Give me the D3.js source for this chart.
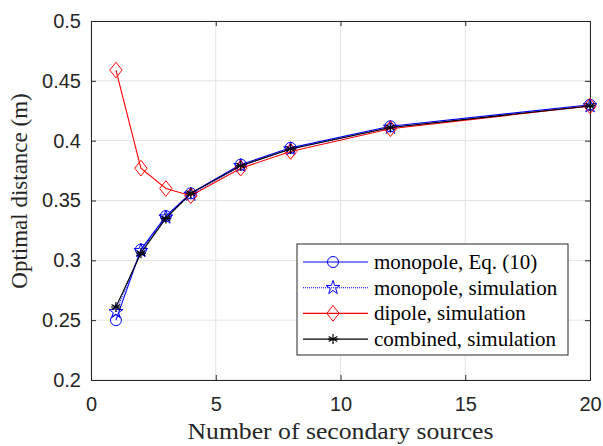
<!DOCTYPE html>
<html>
<head>
<meta charset="utf-8">
<script src="https://cdn.jsdelivr.net/npm/d3@7"></script>
<style>
  body { margin: 0; background: #fff; }
  .tick text { font-family: "Liberation Sans", Arial, sans-serif; font-size: 20px; fill: #262626; }
  .aText { font-family: "Liberation Serif", "Times New Roman", serif; font-size: 23px; fill: #262626; }
  .legText { font-family: "Liberation Serif", "Times New Roman", serif; font-size: 21px; fill: #000; }
</style>
</head>
<body>
<div class="chart"></div>
<script>
var svgWidth = 603;
var svgHeight = 446;

var margin = { top: 21, right: 13, bottom: 66, left: 91 };
var width = svgWidth - margin.left - margin.right;
var height = svgHeight - margin.top - margin.bottom;

// Data
var sources = [1, 2, 3, 4, 6, 8, 12, 20];
var monopoleEq = [0.250, 0.309, 0.337, 0.356, 0.380, 0.394, 0.412, 0.430];
var monopoleSim = [0.257, 0.308, 0.336, 0.355, 0.379, 0.393, 0.411, 0.429];
var dipoleSim = [0.459, 0.377, 0.360, 0.354, 0.377, 0.391, 0.410, 0.429];
var combinedSim = [0.261, 0.306, 0.335, 0.356, 0.379, 0.393, 0.411, 0.429];

var xTicks = [0, 5, 10, 15, 20];
var yTicks = [0.2, 0.25, 0.3, 0.35, 0.4, 0.45, 0.5];
var legendLabels = ["monopole, Eq. (10)", "monopole, simulation", "dipole, simulation", "combined, simulation"];

var svg = d3.select(".chart")
  .append("svg")
  .attr("width", svgWidth)
  .attr("height", svgHeight);

var chartGroup = svg.append("g")
  .attr("transform", `translate(${margin.left}, ${margin.top})`);

var xScale = d3.scaleLinear().domain([0, 20]).range([0, width]);
var yScale = d3.scaleLinear().domain([0.2, 0.5]).range([height, 0]);

// Grid
chartGroup.append("g")
  .selectAll("line")
  .data(xTicks)
  .enter()
  .append("line")
  .attr("x1", d => xScale(d)).attr("x2", d => xScale(d))
  .attr("y1", 0).attr("y2", height)
  .attr("stroke", "#e3e3e3").attr("stroke-width", 1);

chartGroup.append("g")
  .selectAll("line")
  .data(yTicks)
  .enter()
  .append("line")
  .attr("x1", 0).attr("x2", width)
  .attr("y1", d => yScale(d)).attr("y2", d => yScale(d))
  .attr("stroke", "#e3e3e3").attr("stroke-width", 1);

// Axes
var bottomAxis = d3.axisBottom(xScale).tickValues(xTicks).tickSize(-5).tickPadding(17).tickFormat(d3.format("d"));
var leftAxis = d3.axisLeft(yScale).tickValues(yTicks).tickSize(-5).tickPadding(10).tickFormat(d => d);
var topAxis = d3.axisTop(xScale).tickValues(xTicks).tickSize(-5).tickFormat("");
var rightAxis = d3.axisRight(yScale).tickValues(yTicks).tickSize(-5).tickFormat("");

function styleAxis(g) {
  g.select(".domain").attr("stroke", "#262626").attr("stroke-width", 1);
  g.selectAll(".tick line").attr("stroke", "#262626");
}

chartGroup.append("g").attr("transform", `translate(0, ${height})`).call(bottomAxis).call(styleAxis);
chartGroup.append("g").call(leftAxis).call(styleAxis);
chartGroup.append("g").call(topAxis).call(styleAxis);
chartGroup.append("g").attr("transform", `translate(${width}, 0)`).call(rightAxis).call(styleAxis);

// Series
var series = [
  { name: legendLabels[0], values: monopoleEq, color: "#0000ff", dash: null, marker: "circle" },
  { name: legendLabels[1], values: monopoleSim, color: "#0000ff", dash: "1,1", marker: "star" },
  { name: legendLabels[2], values: dipoleSim, color: "#ff0000", dash: null, marker: "diamond" },
  { name: legendLabels[3], values: combinedSim, color: "#000000", dash: null, marker: "asterisk" }
];

var line = d3.line()
  .x(d => xScale(d[0]))
  .y(d => yScale(d[1]));

function drawMarker(g, type, color) {
  if (type === "circle") {
    g.append("circle").attr("r", 5.5).attr("fill", "none").attr("stroke", color).attr("stroke-width", 1);
  } else if (type === "star") {
    g.append("path").attr("d", d3.symbol().type(d3.symbolStar).size(60)())
      .attr("fill", "none").attr("stroke", color).attr("stroke-width", 1);
  } else if (type === "diamond") {
    g.append("path").attr("d", "M0,-7.8L6.2,0L0,7.8L-6.2,0Z")
      .attr("fill", "none").attr("stroke", color).attr("stroke-width", 1);
  } else if (type === "asterisk") {
    g.append("path").attr("d", "M0,-5V5M-4.3,-2.5L4.3,2.5M-4.3,2.5L4.3,-2.5M-5,0H5")
      .attr("fill", "none").attr("stroke", color).attr("stroke-width", 1.2);
  }
}

series.forEach(function(s) {
  var pts = sources.map((x, i) => [x, s.values[i]]);
  chartGroup.append("path")
    .datum(pts)
    .attr("d", line)
    .attr("fill", "none")
    .attr("stroke", s.color)
    .attr("stroke-width", 1.1)
    .attr("stroke-dasharray", s.dash);
  pts.forEach(function(p) {
    var g = chartGroup.append("g").attr("transform", `translate(${xScale(p[0])}, ${yScale(p[1])})`);
    drawMarker(g, s.marker, s.color);
  });
});

// Legend
var legend = svg.append("g").attr("transform", "translate(297, 244)");
legend.append("rect")
  .attr("width", 271).attr("height", 111)
  .attr("fill", "#fff").attr("stroke", "#262626").attr("stroke-width", 1);

series.forEach(function(s, i) {
  var y = 18 + i * 25.7;
  legend.append("line")
    .attr("x1", 6).attr("x2", 71).attr("y1", y).attr("y2", y)
    .attr("stroke", s.color).attr("stroke-width", 1.1)
    .attr("stroke-dasharray", s.dash);
  var g = legend.append("g").attr("transform", `translate(36, ${y})`);
  drawMarker(g, s.marker, s.color);
  legend.append("text")
    .attr("class", "legText")
    .attr("x", 77).attr("y", y).attr("dy", "0.33em")
    .text(s.name);
});

// Axis labels
svg.append("text")
  .attr("class", "aText")
  .attr("text-anchor", "middle")
  .attr("transform", "translate(27, 191) rotate(-90)")
  .text("Optimal distance (m)");

svg.append("text")
  .attr("class", "aText")
  .attr("text-anchor", "middle")
  .attr("x", margin.left + width / 2)
  .attr("y", 439)
  .attr("textLength", 306)
  .attr("lengthAdjust", "spacingAndGlyphs")
  .text("Number of secondary sources");
</script>
</body>
</html>
